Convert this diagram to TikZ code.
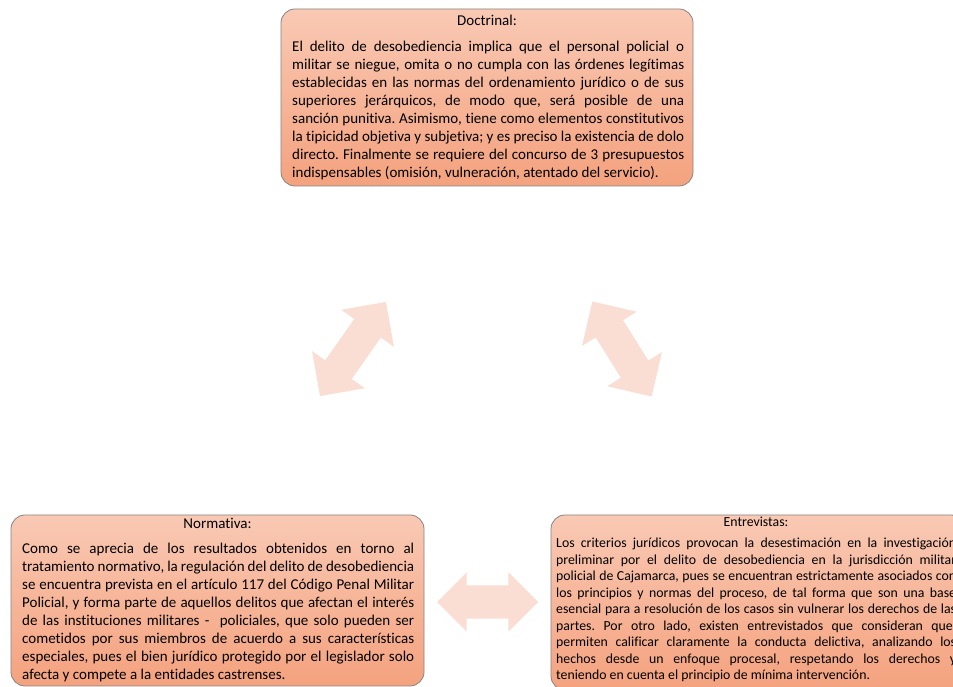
\documentclass[tikz,border=0pt]{standalone}
\usepackage{fontspec}
\setmainfont{Carlito}[Ligatures=NoCommon]
\usetikzlibrary{shapes.arrows,positioning}
\definecolor{boxtop}{HTML}{F9C9B4}
\definecolor{boxbot}{HTML}{F4A27E}
\definecolor{boxline}{HTML}{858585}
\definecolor{arrowfill}{HTML}{FADED3}
\tikzset{
  infobox/.style={draw=boxline, line width=0.8pt, rounded corners=14pt,
    top color=boxtop, bottom color=boxbot, inner sep=0pt},
  boxtitle/.style={anchor=base, inner sep=0pt, font=\fontsize{15}{18}\selectfont},
  boxbody/.style={anchor=base west, inner sep=0pt, align=justify,
    font=\fontsize{15}{18}\selectfont},
  smallbody/.style={boxbody, font=\fontsize{13.8}{16.5}\selectfont},
  smalltitle/.style={boxtitle, font=\fontsize{13.8}{16.5}\selectfont},
  linkarrow/.style={double arrow, fill=arrowfill, draw=none,
    inner xsep=0pt, inner ysep=16pt, double arrow head extend=16pt,
    double arrow tip angle=90}
}
\begin{document}
\begin{tikzpicture}[x=1pt,y=1pt]
\useasboundingbox (0,0) rectangle (953,687);
\clip (0,0) rectangle (953,687);
\fill[white] (0,0) rectangle (953,687);
\frenchspacing
\tolerance=10000 \hyphenpenalty=10000 \exhyphenpenalty=10000
% boxes
\node[infobox, minimum width=412pt, minimum height=177pt] (doc) at (487,589.5) {};
\node[infobox, minimum width=413pt, minimum height=171pt] (norm) at (217.5,86.5) {};
\node[infobox, minimum width=414pt, minimum height=175pt] (entr) at (758,84.5) {};
% titles and texts
\node[boxtitle] (doct) at (487,661) {Doctrinal:};
\node[boxbody, text width=392pt] (docb) at (292,635) {\frenchspacing El delito de desobediencia implica que el personal policial o\linebreak
militar se niegue, omita o no cumpla con las órdenes legítimas\linebreak
establecidas en las normas del ordenamiento jurídico o de sus\linebreak
superiores jerárquicos, de modo que, será posible de una\linebreak
sanción punitiva. Asimismo, tiene como elementos constitutivos\linebreak
la tipicidad objetiva y subjetiva; y es preciso la existencia de dolo\linebreak
directo. Finalmente se requiere del concurso de 3 presupuestos\linebreak
indispensables (omisión, vulneración, atentado del servicio).};
\node[boxtitle] (normt) at (217.5,158) {Normativa:};
\node[boxbody, text width=392pt] (normb) at (22,133) {\frenchspacing Como se aprecia de los resultados obtenidos en torno al\linebreak
tratamiento normativo, la regulación del delito de desobediencia\linebreak
se encuentra prevista en el artículo 117 del Código Penal Militar\linebreak
Policial, y forma parte de aquellos delitos que afectan el interés\linebreak
de las instituciones militares -\ \ policiales, que solo pueden ser\linebreak
cometidos por sus miembros de acuerdo a sus características\linebreak
especiales, pues el bien jurídico protegido por el legislador solo\linebreak
afecta y compete a la entidades castrenses.};
\node[smalltitle] (entrt) at (756,160) {Entrevistas:};
\node[smallbody, text width=400pt] (entrb) at (556,139) {\frenchspacing Los criterios jurídicos provocan la desestimación en la investigación\linebreak
preliminar por el delito de desobediencia en la jurisdicción militar\linebreak
policial de Cajamarca, pues se encuentran estrictamente asociados con\linebreak
los principios y normas del proceso, de tal forma que son una base\linebreak
esencial para a resolución de los casos sin vulnerar los derechos de las\linebreak
partes. Por otro lado, existen entrevistados que consideran que,\linebreak
permiten calificar claramente la conducta delictiva, analizando los\linebreak
hechos desde un enfoque procesal, respetando los derechos y\linebreak
teniendo en cuenta el principio de mínima intervención.};
% block arrows
\node[linkarrow, minimum height=115pt, rotate=55] (a1) at (353,338) {};
\node[linkarrow, minimum height=112pt, rotate=-58] (a2) at (622,338) {};
\node[linkarrow, minimum height=101pt, inner ysep=16.5pt, double arrow head extend=13pt] (a3) at (487.5,85) {};
\end{tikzpicture}
\end{document}
